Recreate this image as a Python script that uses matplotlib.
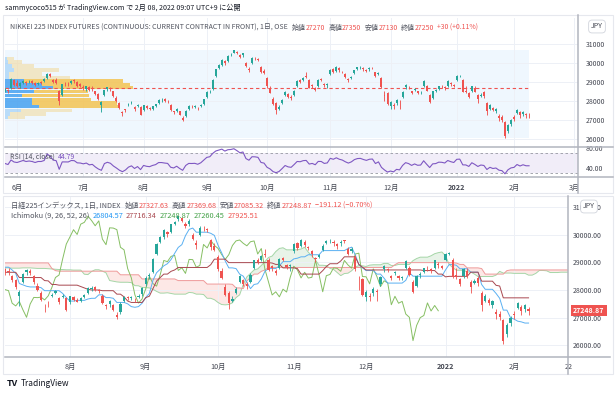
import numpy as np
import pandas as pd
import matplotlib
matplotlib.use("Agg")
import matplotlib.pyplot as plt
from matplotlib.patches import Rectangle
from matplotlib.lines import Line2D

plt.rcParams['font.family'] = ['Noto Sans CJK JP', 'DejaVu Sans']

# ==========================================
# data: daily candles 2021-05-26 .. 2022-02-07
# ==========================================
opens = [28500, 28600, 28700, 29100, 28950, 28800, 28950, 29000, 29000, 29050,
         28950, 28900, 29000, 29050, 29200, 29400, 29100, 29100, 28500, 28300,
         28900, 28900, 28950, 29100, 29000, 28900, 28750, 28650, 28750, 28700,
         28500, 28350, 27800, 28300, 28650, 28700, 28500, 28150, 27900, 27400,
         27550, 27800, 27900, 27700, 27750, 27700, 27550, 27750, 27650, 27600,
         27750, 27900, 28050, 28100, 28000, 27800, 27450, 27500, 27450, 27100,
         27200, 27600, 27750, 27700, 27650, 27750, 27850, 28200, 28500, 28650,
         29300, 29750, 29900, 30100, 30100, 30400, 30550, 30600, 30400, 30400,
         30000, 29700, 30000, 30250, 30200, 29800, 29600, 29200, 28700, 28100,
         27900, 27600, 27900, 28300, 28350, 28200, 28300, 28800, 29100, 29100,
         29300, 29100, 28850, 28700, 28800, 29150, 28900, 28850, 29400, 29700,
         29600, 29750, 29550, 29400, 29150, 29200, 29450, 29700, 29800, 29750,
         29650, 29700, 29800, 29500, 29400, 29200, 28300, 28400, 27750, 27800,
         27900, 27950, 28200, 28750, 28750, 28500, 28600, 28500, 28450, 28800,
         28800, 28300, 28150, 28550, 28650, 28800, 28750, 28800, 28950, 28850,
         29100, 29300, 29100, 28550, 28400, 28500, 28700, 28300, 28250, 28450,
         27900, 27600, 27650, 27450, 27200, 27150, 26900, 26400, 26800, 27150,
         27350, 27400, 27300, 27327.63]
highs = [28700, 28650, 29200, 29150, 29100, 29000, 29100, 29050, 29100, 29100,
         29000, 29000, 29050, 29200, 29480, 29460, 29150, 29200, 28600, 28900,
         29000, 29000, 29100, 29150, 29050, 28950, 28850, 28800, 28800, 28800,
         28550, 28400, 28000, 28600, 28750, 28750, 28550, 28250, 27950, 27500,
         27600, 27900, 28000, 27750, 27850, 27750, 27800, 27800, 27700, 27750,
         27850, 28100, 28150, 28150, 28050, 27850, 27500, 27650, 27500, 27200,
         27550, 27800, 27800, 27800, 27700, 27850, 28100, 28500, 28600, 29150,
         29700, 29950, 30200, 30150, 30400, 30500, 30680, 30650, 30450, 30550,
         30050, 29800, 30300, 30300, 30250, 29850, 29700, 29250, 28800, 28200,
         27950, 27800, 28100, 28550, 28400, 28300, 28600, 29100, 29150, 29250,
         29500, 29150, 28900, 28750, 29150, 29200, 28950, 28950, 29700, 29750,
         29850, 29800, 29600, 29450, 29200, 29300, 29650, 29800, 29850, 29800,
         29700, 29800, 29806.5, 29550, 29550, 29250, 28500, 28450, 28000, 27900,
         28100, 28050, 28500, 28900, 28800, 28550, 28700, 28550, 28500, 29100,
         28850, 28350, 28550, 28650, 28800, 28850, 28800, 29100, 29000, 28900,
         29350, 29388.16, 29150, 28800, 28450, 28800, 28800, 28350, 28400, 28500,
         27950, 27850, 27700, 27650, 27300, 27250, 26950, 26800, 27050, 27250,
         27564.62, 27450, 27500, 27369.68]
lows = [28450, 28400, 28650, 28800, 28750, 28700, 28900, 28850, 28950, 28900,
        28800, 28850, 28900, 29000, 29150, 29250, 28950, 28900, 27800, 28250,
        28800, 28800, 28900, 28950, 28750, 28750, 28600, 28500, 28550, 28550,
        28300, 28050, 27420, 28250, 28550, 28550, 28200, 27950, 27600, 27200,
        27400, 27750, 27850, 27500, 27700, 27250, 27500, 27600, 27550, 27550,
        27700, 27850, 27950, 27950, 27900, 27500, 27300, 27400, 27250, 26950,
        27150, 27550, 27650, 27650, 27550, 27700, 27800, 28150, 28400, 28600,
        29250, 29700, 29850, 29900, 30050, 30350, 30500, 30450, 30250, 30300,
        29800, 29500, 29950, 30150, 30100, 29450, 29400, 28700, 28400, 27800,
        27300, 27550, 27850, 28250, 28150, 28050, 28250, 28750, 28950, 29050,
        29200, 28700, 28700, 28550, 28750, 29050, 28750, 28700, 29350, 29450,
        29550, 29550, 29450, 29200, 29000, 29150, 29400, 29650, 29700, 29600,
        29500, 29600, 29700, 29250, 29350, 28700, 28000, 27800, 27600, 27600,
        27800, 27600, 28150, 28650, 28650, 28350, 28550, 28350, 28350, 28750,
        28500, 27900, 28100, 28450, 28600, 28700, 28600, 28750, 28800, 28750,
        29050, 29250, 28450, 28400, 28150, 28450, 28450, 27900, 28200, 28150,
        27250, 27550, 27450, 27350, 26950, 26900, 26044.52, 26300, 26700, 26950,
        27300, 27100, 27200, 27085.32]
closes = [28642, 28549, 29149, 28860, 28814, 28946, 29058, 28941, 29019, 28963,
          28860, 28958, 28948, 29161, 29441, 29291, 29018, 28964, 28010, 28884,
          28874, 28875, 29066, 29048, 28812, 28791, 28707, 28783, 28598, 28643,
          28366, 28118, 27940, 28569, 28718, 28608, 28279, 28003, 27652, 27388,
          27548, 27833, 27970, 27581, 27782, 27283, 27781, 27641, 27584, 27728,
          27820, 28070, 28070, 28015, 27977, 27523, 27424, 27585, 27281, 27013,
          27494, 27732, 27724, 27742, 27641, 27789, 28089, 28451, 28543, 29128,
          29660, 29916, 30181, 30008, 30381, 30447, 30670, 30511, 30323, 30500,
          29839, 29639, 30248, 30240, 30183, 29544, 29452, 28771, 28444, 27822,
          27528, 27678, 28048, 28498, 28230, 28140, 28550, 29068, 29025, 29215,
          29255, 28708, 28804, 28600, 29106, 29098, 28820, 28892, 29647, 29520,
          29794, 29611, 29507, 29285, 29106, 29277, 29609, 29776, 29808, 29688,
          29598, 29745, 29774, 29302, 29499, 28751, 28283, 27821, 27935, 27753,
          28029, 27927, 28455, 28860, 28725, 28437, 28640, 28432, 28459, 29066,
          28545, 27937, 28517, 28562, 28798, 28782, 28676, 29069, 28906, 28791,
          29301, 29332, 28487, 28478, 28222, 28765, 28489, 28124, 28333, 28257,
          27467, 27772, 27522, 27588, 27131, 27011, 26170, 26717, 27001, 27078,
          27533, 27241, 27439.99, 27248.87]

# futures bar of 2022-02-08 (only in the upper chart)
fut_open, fut_high, fut_low, fut_close = 27270, 27350, 27130, 27250

# exchange holidays inside the period
holidays = ['2021-07-22', '2021-07-23', '2021-08-09', '2021-09-20', '2021-09-23',
            '2021-11-03', '2021-11-23', '2021-12-31', '2022-01-03', '2022-01-10']

# RSI values of the first 14 bars (history before the window is not shown)
rsi_head = [49, 47, 56, 52, 51, 53, 55, 53, 54, 53, 51, 53, 53, 55]

# leading spans on the left edge of the lower chart (their source lies before the window)
span_a_early = [28800, 28800, 28790, 28790, 28790, 28800, 28800, 28800, 28790, 28780,
                28780, 28780, 28770, 28760, 28750, 28740, 28740, 28730, 28730, 28720,
                28720, 28720]
span_b_early = [28980, 28980, 28980, 28980, 28980, 28980, 28980, 28980, 28980, 28980,
                28980, 28980, 28980, 28780, 28700, 28680, 28680, 28680, 28680, 28680,
                28680, 28680, 28680, 28680, 28680, 28680, 28680, 28680, 28680, 28680,
                28680, 28680, 28550, 28550, 28550, 28550, 28550, 28550, 28400, 28400,
                28400, 28400, 28400, 28400, 28400, 28400, 28400, 28400]

# volume profile rows (price, up volume, down volume)
vp_price = [30247, 30053, 29842, 29632, 29421, 29226, 29053, 28879, 28700,
            28489, 28279, 28089, 27895, 27700, 27489, 27316, 27121]
vp_up = [2, 3, 7, 9, 4, 4, 19, 37, 47, 29, 17, 27, 27, 34, 16, 5, 3]
vp_down = [7, 14, 22, 44, 33, 60, 98, 87, 80, 53, 66, 58, 84, 78, 50, 36, 17]

# ==========================================
# calendar / derived series
# ==========================================
W, H = 616, 395
UP, DN = '#26a69a', '#ef5350'
GRID = '#edf0f6'
TXT = '#434651'

days = pd.bdate_range('2021-05-26', '2022-02-07')
days = days[~days.isin(pd.to_datetime(holidays))]
future = pd.bdate_range('2022-02-08', '2022-03-31')
cal = days.append(future)
n = len(closes)

def month_ticks(start, end):
    pos, lab = [], []
    for p in pd.date_range(start, end, freq='MS'):
        i = int(np.searchsorted(cal, p))
        pos.append(i)
        lab.append('2022' if p.month == 1 else f'{p.month}月')
    return pos, lab

# upper chart uses the futures series (one more bar)
t_open = np.array(opens + [fut_open])
t_high = np.array(highs + [fut_high])
t_low = np.array(lows + [fut_low])
t_close = np.array(closes + [fut_close])

# RSI 14 (Wilder)
delta = np.diff(t_close)
gain = np.clip(delta, 0, None)
loss = np.clip(-delta, 0, None)
ag, al = gain[:14].mean(), loss[:14].mean()
rsi = list(rsi_head)
for i in range(14, len(delta)):
    if i > 14:
        ag = (ag * 13 + gain[i - 1]) / 14
        al = (al * 13 + loss[i - 1]) / 14
    rsi.append(100 - 100 / (1 + ag / al))
ag = (ag * 13 + gain[-1]) / 14
al = (al * 13 + loss[-1]) / 14
rsi.append(100 - 100 / (1 + ag / al))
rsi = np.array(rsi[:len(t_close)])

# Ichimoku (9, 26, 52, 26)
hi, lo = pd.Series(highs), pd.Series(lows)
tenkan = (hi.rolling(9).max() + lo.rolling(9).min()) / 2
kijun = (hi.rolling(26).max() + lo.rolling(26).min()) / 2
lead = 25
span_a = np.full(n + lead, np.nan)
span_b = np.full(n + lead, np.nan)
span_a[lead:] = ((tenkan + kijun) / 2).values
span_b[lead:] = ((hi.rolling(52).max() + lo.rolling(52).min()) / 2).values
first = 28
for k, v in enumerate(span_a_early):
    if np.isnan(span_a[first + k]):
        span_a[first + k] = v
for k, v in enumerate(span_b_early):
    if np.isnan(span_b[first + k]):
        span_b[first + k] = v

# ==========================================
# figure helpers
# ==========================================
fig = plt.figure(figsize=(W / 100, H / 100), dpi=100)
fig.patch.set_facecolor('white')

def add_ax(x0, y0, x1, y1):
    a = fig.add_axes([x0 / W, 1 - y1 / H, (x1 - x0) / W, (y1 - y0) / H])
    for s in a.spines.values():
        s.set_visible(False)
    a.set_facecolor('none')
    return a

def fline(x0, y0, x1, y1, color='#b2b5be', lw=1.1):
    fig.add_artist(Line2D([x0 / W, x1 / W], [1 - y0 / H, 1 - y1 / H], color=color, lw=lw))

def rich(x, y, parts, size):
    r = fig.canvas.get_renderer()
    for s, c, gap in parts:
        t = fig.text(x / W, 1 - y / H, s, color=c, fontsize=size, va='center', ha='left')
        x += t.get_window_extent(renderer=r).width + gap

def candles(ax, xs, o, h, l, c, width, lw):
    col = np.where(c >= o, UP, DN)
    ax.vlines(xs, l, h, colors=col, lw=lw, zorder=4)
    ax.bar(xs, np.maximum(np.abs(c - o), 12), width, bottom=np.minimum(o, c),
           color=col, linewidth=0, zorder=5)

# card frames
fig.add_artist(Rectangle((3 / W, 1 - 193 / H), 610 / W, 178 / H, transform=fig.transFigure,
                         facecolor='white', edgecolor='#e6e8ee', lw=0.8, zorder=-5))
fig.add_artist(Rectangle((3 / W, 1 - 374 / H), 610 / W, 178 / H, transform=fig.transFigure,
                         facecolor='white', edgecolor='#e6e8ee', lw=0.8, zorder=-5))

# ==========================================
# upper chart: futures + volume profile
# ==========================================
ax1 = add_ax(5, 18, 578, 146.7)
xt = np.arange(len(t_close))
ax1.set_xlim(0.0, 190.25)
ax1.set_ylim(25595, 32368)
top_pos, top_lab = month_ticks('2021-06-01', '2022-03-01')

box_lo, box_hi = t_low.min(), t_high.max()
ax1.add_patch(Rectangle((xt[0], box_lo), xt[-1] - xt[0], box_hi - box_lo,
                        facecolor='#2196f3', alpha=0.07, lw=0, zorder=1))

vp_tot = np.array(vp_up) + np.array(vp_down)
poc = int(np.argmax(vp_tot))
va = {poc}
acc = vp_tot[poc]
a_i, b_i = poc - 1, poc + 1
while acc < 0.7 * vp_tot.sum():
    va_up = vp_tot[a_i] if a_i >= 0 else -1
    va_dn = vp_tot[b_i] if b_i < len(vp_tot) else -1
    if va_up >= va_dn:
        va.add(a_i); acc += va_up; a_i -= 1
    else:
        va.add(b_i); acc += va_dn; b_i += 1
scale = (xt[-1] - xt[0]) * 0.245 / vp_tot.max()
row_h = abs(np.median(np.diff(vp_price))) * 0.86
for k, p in enumerate(vp_price):
    inside = k in va
    ax1.barh(p, vp_up[k] * scale, left=0, height=row_h, color='#2f96ef',
             alpha=0.75 if inside else 0.28, lw=0, zorder=2)
    ax1.barh(p, vp_down[k] * scale, left=vp_up[k] * scale, height=row_h, color='#f4c047',
             alpha=0.8 if inside else 0.3, lw=0, zorder=2)
ax1.plot([xt[0], xt[-1]], [vp_price[poc]] * 2, color='#ef5350', lw=0.8,
         dashes=(3, 2.5), zorder=3)

candles(ax1, xt, t_open, t_high, t_low, t_close, 0.65, 0.65)

ax1.set_yticks(range(26000, 32000, 1000))
ax1.set_xticks(top_pos)
ax1.grid(True, color=GRID, lw=0.7, zorder=0)
ax1.yaxis.tick_right()
ax1.tick_params(axis='y', length=0, labelsize=5, labelcolor=TXT, pad=5.8)
ax1.tick_params(axis='x', length=0, labelbottom=False)

# RSI pane
ax2 = add_ax(5, 146.7, 578, 177.3)
ax2.set_xlim(ax1.get_xlim())
ax2.set_ylim(21.4, 82.6)
ax2.axhspan(30, 70, color='#7e57c2', alpha=0.1, lw=0, zorder=1)
for lv in (30, 70):
    ax2.axhline(lv, color='#9598a1', lw=0.6, dashes=(3, 3), zorder=2)
ax2.plot(xt, rsi, color='#7e57c2', lw=0.8, zorder=3)
ax2.set_yticks([40, 80])
ax2.set_yticklabels(['40.00', '80.00'])
ax2.set_xticks(top_pos)
ax2.set_xticklabels(top_lab)
ax2.grid(True, axis='x', color=GRID, lw=0.7, zorder=0)
ax2.yaxis.tick_right()
ax2.tick_params(axis='y', length=0, labelsize=5, labelcolor=TXT, pad=5.8)
ax2.tick_params(axis='x', length=0, labelsize=5.2, labelcolor=TXT, pad=4.5)
for t in ax2.get_xticklabels():
    if t.get_text() == '2022':
        t.set_fontweight('bold')

fline(578, 15, 578, 193)
fline(5, 146.7, 613, 146.7)
fline(5, 177.3, 613, 177.3)

# ==========================================
# lower chart: index + Ichimoku
# ==========================================
ax3 = add_ax(5, 197, 568.3, 356.7)
xb = np.arange(n)
ax3.set_xlim(28.03, 183.7)
ax3.set_ylim(25588, 31363)
xl = np.arange(n + lead)
ok = ~np.isnan(span_a) & ~np.isnan(span_b)
ax3.fill_between(xl, span_a, span_b, where=ok & (span_a >= span_b), color='#43a047',
                 alpha=0.12, lw=0, interpolate=True, zorder=1)
ax3.fill_between(xl, span_a, span_b, where=ok & (span_a < span_b), color='#f44336',
                 alpha=0.12, lw=0, interpolate=True, zorder=1)
ax3.plot(xl, span_a, color='#a5d6a7', lw=0.7, zorder=2)
ax3.plot(xl, span_b, color='#ef9a9a', lw=0.7, zorder=2)
ax3.plot(xb - lead, closes, color='#86bf63', lw=0.7, zorder=3)
ax3.plot(xb, tenkan, color='#5ab0f2', lw=0.7, zorder=3)
ax3.plot(xb, kijun, color='#a8474f', lw=0.7, zorder=3)

candles(ax3, xb, np.array(opens), np.array(highs), np.array(lows), np.array(closes), 0.62, 0.6)

bot_pos, bot_lab = month_ticks('2021-08-01', '2022-02-01')
feb22 = int(np.searchsorted(cal, pd.Timestamp('2022-02-22')))
ax3.set_xticks(bot_pos + [feb22])
ax3.set_xticklabels(bot_lab + ['22'])
for t in ax3.get_xticklabels():
    if t.get_text() == '2022':
        t.set_fontweight('bold')
ax3.set_yticks(range(26000, 32000, 1000))
ax3.set_yticklabels([f'{v}.00' for v in range(26000, 32000, 1000)])
ax3.grid(True, color=GRID, lw=0.7, zorder=0)
ax3.yaxis.tick_right()
ax3.tick_params(axis='y', length=0, labelsize=5, labelcolor=TXT, pad=3.4)
ax3.tick_params(axis='x', length=0, labelsize=5.2, labelcolor=TXT, pad=4.5)

ax3.annotate(f'{closes[-1]:.2f}', xy=(1.0, closes[-1]), xycoords=('axes fraction', 'data'),
             xytext=(3.6, 0), textcoords='offset points', ha='left', va='center',
             fontsize=5, color='white', fontweight='bold',
             bbox=dict(boxstyle='square,pad=0.3', fc='#ef5350', ec='none'), zorder=10)

fline(568.3, 196, 568.3, 374)
fline(5, 356.7, 610, 356.7)

# ==========================================
# texts
# ==========================================
fig.text(5 / W, 1 - 8 / H, 'sammycoco515 が TradingView.com で 2月 08, 2022 09:07 UTC+9 に公開',
         fontsize=5.1, color='#131722', va='center')

RED = '#ef5350'
GRY = '#50535e'
rich(10, 28, [('NIKKEI 225 INDEX FUTURES (CONTINUOUS: CURRENT CONTRACT IN FRONT), 1日, OSE', GRY, 4),
              ('始値', GRY, 0), (f'{fut_open}', RED, 3), ('高値', GRY, 0), (f'{fut_high}', RED, 3),
              ('安値', GRY, 0), (f'{fut_low}', RED, 3), ('終値', GRY, 0), (f'{fut_close}', RED, 3),
              ('+30 (+0.11%)', RED, 0)], 5)
rich(10, 157, [('RSI (14, close)', GRY, 3), ('44.79', '#7e57c2', 0)], 5)

chg = closes[-1] - closes[-2]
rich(11, 205.7, [('日経225インデックス, 1日, INDEX', GRY, 4),
                 ('始値', GRY, 0), (f'{opens[-1]:.2f}', RED, 3), ('高値', GRY, 0), (f'{highs[-1]:.2f}', RED, 3),
                 ('安値', GRY, 0), (f'{lows[-1]:.2f}', RED, 3), ('終値', GRY, 0), (f'{closes[-1]:.2f}', RED, 3),
                 (f'{chg:.2f} ({chg / closes[-2] * 100:.2f}%)'.replace('-', '−'), RED, 0)], 5.2)
rich(11, 216, [('Ichimoku (9, 26, 52, 26)', GRY, 3),
               (f'{tenkan.iloc[-1]:.2f}', '#2196f3', 3),
               (f'{kijun.iloc[-1]:.2f}', '#a8474f', 3),
               (f'{closes[-1]:.2f}', '#43a047', 3),
               (f'{np.floor(span_a[-1] * 100) / 100:.2f}', '#43a047', 3),
               (f'{span_b[-1]:.2f}', '#ef5350', 0)], 5.3)

for (x, y) in [(597, 26.5), (589, 206.5)]:
    fig.text(x / W, 1 - y / H, 'JPY', fontsize=5, color=TXT, ha='center', va='center', zorder=20,
             bbox=dict(boxstyle='round,pad=0.35,rounding_size=0.5', fc='white', ec='#d1d4dc', lw=0.6))

fig.text(7 / W, 1 - 383 / H, 'TV', fontsize=6.5, fontweight='bold', color='#131722', va='center')
fig.text(21 / W, 1 - 383 / H, 'TradingView', fontsize=6, color='#131722', va='center')

fig.savefig('out.png', dpi=100, facecolor='white')
